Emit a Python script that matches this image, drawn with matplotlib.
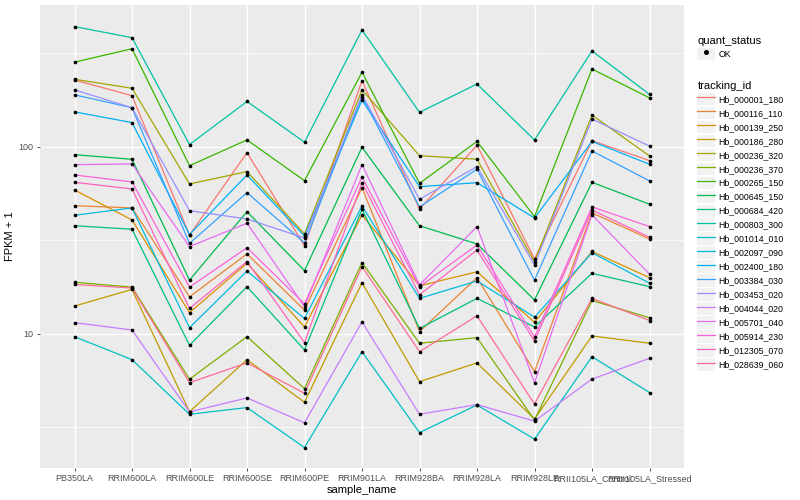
import numpy as np
import matplotlib.pyplot as plt
from matplotlib.lines import Line2D
from matplotlib.patches import Rectangle
from matplotlib.legend_handler import HandlerLine2D
from matplotlib.ticker import FixedLocator, NullFormatter

plt.rcParams['font.family'] = ['Liberation Sans', 'DejaVu Sans']

# sample names on the x axis
samples = ['PB350LA', 'RRIM600LA', 'RRIM600LE', 'RRIM600SE', 'RRIM600PE',
           'RRIM901LA', 'RRIM928BA', 'RRIM928LA', 'RRIM928LE',
           'RRII105LA_Control', 'RRII105LA_Stressed']

tracking_ids = ['Hb_000001_180', 'Hb_000116_110', 'Hb_000139_250', 'Hb_000186_280',
                'Hb_000236_320', 'Hb_000236_370', 'Hb_000265_150', 'Hb_000645_150',
                'Hb_000684_420', 'Hb_000803_300', 'Hb_001014_010', 'Hb_002097_090',
                'Hb_002400_180', 'Hb_003384_030', 'Hb_003453_020', 'Hb_004044_020',
                'Hb_005701_040', 'Hb_005914_230', 'Hb_012305_070', 'Hb_028639_060']

# FPKM + 1 per sample
hb_000001_180 = [228, 188, 33.8, 93.2, 29.6, 226, 46.5, 102, 25.2, 108, 84.5]
hb_000116_110 = [48.5, 47.2, 15.8, 26.8, 13.4, 60.6, 10.3, 20.0, 6.29, 44.4, 32.2]
hb_000139_250 = [58.9, 40.7, 13.0, 23.9, 10.9, 43.3, 18.1, 21.5, 11.55, 27.6, 20.0]
hb_000186_280 = [14.1, 17.3, 3.84, 7.29, 4.31, 18.8, 5.56, 7.00, 3.51, 9.76, 8.92]
hb_000236_320 = [230, 206, 63.4, 73.8, 34.3, 202, 89.8, 85.9, 24.3, 148, 89.5]
hb_000236_370 = [18.9, 17.8, 5.73, 9.67, 5.10, 24.1, 8.92, 9.55, 3.47, 15.1, 12.2]
hb_000265_150 = [284, 335, 79.4, 109, 66.0, 251, 63.9, 107, 42.4, 261, 183]
hb_000645_150 = [90.9, 85.9, 19.4, 45.1, 21.8, 99.6, 37.9, 30.3, 15.2, 64.7, 49.4]
hb_000684_420 = [37.9, 36.3, 8.70, 17.9, 8.21, 46.4, 10.7, 15.5, 10.9, 21.1, 17.9]
hb_000803_300 = [440, 384, 103, 175, 106, 422, 153, 217, 109, 326, 191]
hb_001014_010 = [9.67, 7.29, 3.72, 4.04, 2.47, 8.04, 2.97, 4.17, 2.74, 7.56, 4.86]
hb_002097_090 = [43.1, 47.2, 10.8, 21.7, 12.1, 48.4, 15.5, 19.2, 12.3, 27.2, 18.7]
hb_002400_180 = [154, 135, 34.0, 70.8, 33.4, 178, 61.3, 64.4, 41.7, 107, 80.8]
hb_003384_030 = [190, 162, 30.5, 57.0, 30.7, 186, 47.8, 76.0, 19.4, 95.2, 65.8]
hb_003453_020 = [202, 162, 45.6, 41.2, 32.6, 190, 52.5, 78.5, 23.4, 141, 101]
hb_004044_020 = [11.5, 10.5, 3.83, 4.55, 3.35, 11.6, 3.72, 4.19, 3.42, 5.74, 7.41]
hb_005701_040 = [80.4, 81.1, 29.3, 39.1, 14.0, 80.4, 18.3, 37.5, 5.49, 43.3, 20.9]
hb_005914_230 = [70.8, 65.0, 17.8, 28.9, 14.5, 69.1, 17.9, 29.9, 9.64, 47.8, 37.5]
hb_012305_070 = [64.7, 59.6, 13.7, 24.4, 8.99, 64.4, 16.2, 28.1, 9.17, 46.0, 32.9]
hb_028639_060 = [18.4, 17.6, 5.49, 7.00, 4.82, 22.9, 8.04, 12.5, 4.22, 15.5, 11.8]

series = [hb_000001_180, hb_000116_110, hb_000139_250, hb_000186_280,
          hb_000236_320, hb_000236_370, hb_000265_150, hb_000645_150,
          hb_000684_420, hb_000803_300, hb_001014_010, hb_002097_090,
          hb_002400_180, hb_003384_030, hb_003453_020, hb_004044_020,
          hb_005701_040, hb_005914_230, hb_012305_070, hb_028639_060]

# ggplot hue palette, 20 levels
colors = ['#F8766D', '#EA8331', '#D89000', '#C09B00', '#A3A500', '#7CAE00',
          '#39B600', '#00BB4E', '#00BF7D', '#00C1A3', '#00BFC4', '#00BAE0',
          '#00B0F6', '#35A2FF', '#9590FF', '#C77CFF', '#E76BF3', '#FA62DB',
          '#FF62BC', '#FF6C91']


class KeyHandler(HandlerLine2D):
    # legend key drawn on a light grey box, like ggplot
    def create_artists(self, legend, orig_handle, xdescent, ydescent,
                       width, height, fontsize, trans):
        bg = Rectangle((-xdescent, -ydescent), width, height,
                       facecolor='#F2F2F2', edgecolor='none', transform=trans)
        arts = super().create_artists(legend, orig_handle, xdescent, ydescent,
                                      width, height, fontsize, trans)
        return [bg] + list(arts)


fig = plt.figure(figsize=(8, 5), dpi=100)
ax = fig.add_axes([0.05, 0.064, 0.805, 0.926])
ax.set_facecolor('#EBEBEB')

x = np.arange(len(samples))
handles = []
for name, vals, col in zip(tracking_ids, series, colors):
    h, = ax.plot(x, vals, color=col, lw=0.9, zorder=2)
    handles.append(h)
for vals in series:
    ax.scatter(x, vals, s=7, color='black', zorder=3, lw=0)

ax.set_yscale('log')
ax.set_ylim(1.92, 574)
ax.set_xlim(-0.6, 10.6)
ax.set_xticks(x, samples)
ax.set_yticks([10, 100], ['10', '100'])
ax.yaxis.set_minor_locator(FixedLocator([10**0.5, 10**1.5, 10**2.5]))
ax.yaxis.set_minor_formatter(NullFormatter())
ax.grid(which='major', color='white', lw=1.0)
ax.grid(which='minor', axis='y', color='white', lw=0.5)
ax.set_axisbelow(True)
for s in ax.spines.values():
    s.set_visible(False)
ax.tick_params(which='major', length=2.5, width=0.6, color='#333333',
               labelsize=6.5, labelcolor='#4D4D4D', pad=2)
ax.tick_params(which='minor', length=0)
ax.set_xlabel('sample_name', fontsize=8, labelpad=1.5)
ax.set_ylabel('FPKM + 1', fontsize=8, labelpad=3)

pt = Line2D([], [], marker='o', color='black', ls='', markersize=2.6)
leg_kw = dict(loc='upper left', frameon=False, fontsize=6.3, title_fontsize=8,
              alignment='left', handlelength=2.0, handleheight=1.85,
              labelspacing=0.15, handletextpad=0.4,
              handler_map={Line2D: KeyHandler()})
leg1 = fig.legend([pt], ['OK'], title='quant_status',
                  bbox_to_anchor=(0.862, 0.943), **leg_kw)
leg2 = fig.legend(handles, tracking_ids, title='tracking_id',
                  bbox_to_anchor=(0.862, 0.853), **leg_kw)

fig.savefig('out.png', dpi=100)
